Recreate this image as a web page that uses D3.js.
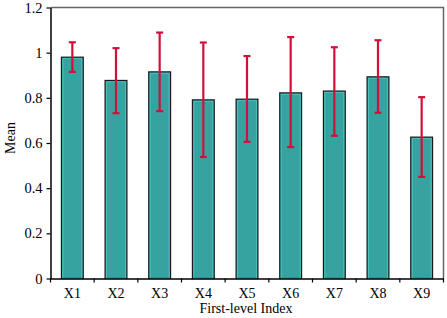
<!DOCTYPE html>
<html><head><meta charset="utf-8">
<script src="https://cdn.jsdelivr.net/npm/d3@7"></script>
<style>body{margin:0;background:#fff}svg{display:block}</style>
</head><body>
<svg id="c" width="447" height="318"></svg>
<script>
const categories = ["X1","X2","X3","X4","X5","X6","X7","X8","X9"];
const means = [0.98,0.877,0.915,0.791,0.794,0.822,0.830,0.893,0.626];
const errUpper = [1.046,1.02,1.089,1.045,0.985,1.069,1.024,1.055,0.803];
const errLower = [0.915,0.732,0.741,0.538,0.605,0.582,0.632,0.734,0.450];
const yTicks = [0,0.2,0.4,0.6,0.8,1,1.2];

const svg = d3.select("#c");
const m = {l:50.5, r:443.5, t:7.5, b:278.5};
const x = d3.scaleBand().domain(categories).range([m.l,m.r]).paddingInner(0).paddingOuter(0);
const y = d3.scaleLinear().domain([0,1.2]).range([m.b,m.t]);
const font = "'Liberation Serif','Times New Roman',serif";

// frame top & right
svg.append("path").attr("d",`M${m.l},${m.t}H${m.r}V${m.b}`).attr("fill","none").attr("stroke","#666").attr("stroke-width",1.5);

const bw = x.bandwidth()*0.5;
const bars = svg.append("g");
categories.forEach((c,i)=>{
  const cx = x(c)+x.bandwidth()/2;
  bars.append("rect").attr("x",cx-bw/2).attr("y",y(means[i])).attr("width",bw).attr("height",y(0)-y(means[i]))
    .attr("fill","#37a3a1").attr("stroke","#1a1a1a").attr("stroke-width",1.2);
  bars.append("rect").attr("x",cx-bw/2+1.5).attr("y",y(means[i])+1.5).attr("width",bw-3).attr("height",y(0)-y(means[i])-1.5)
    .attr("fill","none").attr("stroke","#4cc4c2").attr("stroke-width",0.8);
});

const eg = svg.append("g").attr("stroke","#d0103a").attr("stroke-width",2.2);
categories.forEach((c,i)=>{
  const cx = x(c)+x.bandwidth()/2;
  eg.append("line").attr("x1",cx).attr("x2",cx).attr("y1",y(errUpper[i])).attr("y2",y(errLower[i]));
  eg.append("line").attr("x1",cx-3.5).attr("x2",cx+3.5).attr("y1",y(errUpper[i])).attr("y2",y(errUpper[i]));
  eg.append("line").attr("x1",cx-3.5).attr("x2",cx+3.5).attr("y1",y(errLower[i])).attr("y2",y(errLower[i]));
});

// y axis
const ya = svg.append("g").attr("transform",`translate(${m.l},0)`)
  .call(d3.axisLeft(y).tickValues(yTicks).tickSize(4).tickSizeOuter(0).tickFormat(d=>d3.format("")(+d.toFixed(1))));
ya.select(".domain").attr("stroke","#000").attr("stroke-width",1.5);
ya.selectAll(".tick line").attr("stroke","#000").attr("stroke-width",1.2);
ya.selectAll("text").attr("font-family",font).attr("font-size",14.5).attr("fill","#000").attr("x",-8);

// x axis
const xa = svg.append("g").attr("transform",`translate(0,${m.b})`)
  .call(d3.axisBottom(x).tickSize(0).tickSizeOuter(0));
xa.select(".domain").attr("stroke","#000").attr("stroke-width",1.5);
xa.selectAll("text").attr("font-family",font).attr("font-size",14).attr("fill","#000").attr("dy","1.2em");
// boundary ticks
const bounds = categories.map(c=>x(c)).concat([m.r]);
svg.append("g").selectAll("line").data(bounds).join("line")
  .attr("x1",d=>d).attr("x2",d=>d).attr("y1",m.b).attr("y2",m.b+4).attr("stroke","#000").attr("stroke-width",1.2);

svg.append("text").attr("x",(m.l+m.r)/2 - 1).attr("y",313).attr("text-anchor","middle")
  .attr("font-family",font).attr("font-size",14).text("First-level Index");
svg.append("text").attr("transform",`translate(15,138) rotate(-90)`).attr("text-anchor","middle")
  .attr("font-family",font).attr("font-size",14).text("Mean");
</script>
</body></html>
